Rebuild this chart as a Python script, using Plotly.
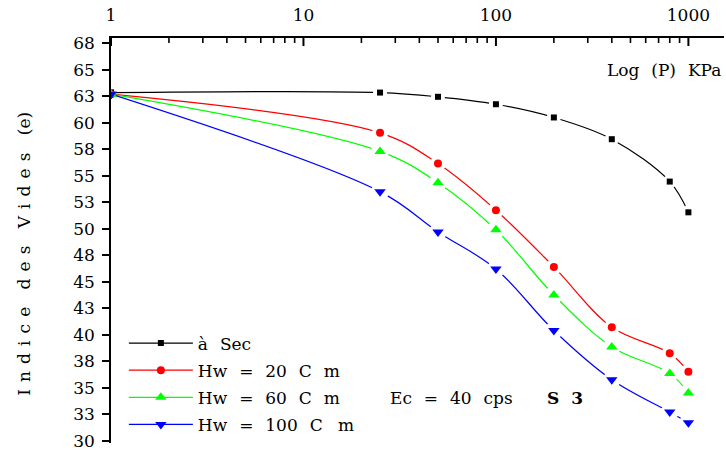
import plotly.graph_objects as go

# ---- data ----
pressure = [1, 25, 50, 100, 200, 400, 800, 1000]
e_sec = [62.85, 62.85, 62.45, 61.75, 60.5, 58.45, 54.45, 51.55]
e_hw20 = [62.7, 59.05, 56.15, 51.75, 46.4, 40.7, 38.25, 36.5]
e_hw60 = [62.7, 57.3, 54.35, 49.9, 43.75, 38.85, 36.35, 34.5]
e_hw100 = [62.7, 53.5, 49.7, 46.2, 40.4, 35.75, 32.7, 31.7]
series_names = ["à\u2002\u2009Sec",
                "Hw\u2002\u2009=\u2002\u200920\u2002\u2009C\u2002\u2009m",
                "Hw\u2002\u2009=\u2002\u200960\u2002\u2009C\u2002\u2009m",
                "Hw\u2002\u2009=\u2002\u2009100\u2002\u2009C\u2002\u2009\u2009m"]
x_major_ticks = [1, 10, 100, 1000]
x_major_labels = ["1", "10", "100", "1000"]
x_minor_ticks = [2, 3, 4, 5, 6, 7, 8, 9, 20, 30, 40, 50, 60, 70, 80, 90,
                 200, 300, 400, 500, 600, 700, 800, 900]
y_tick_values = [30, 32.5, 35, 37.5, 40, 42.5, 45, 47.5, 50, 52.5, 55, 57.5, 60, 62.5, 65, 67.5]
y_tick_labels = ["30", "33", "35", "38", "40", "43", "45", "48", "50", "53", "55", "58", "60", "63", "65", "68"]

FONT = "DejaVu Serif"
FS = 17
XR = [0, 3.185]
PLOT_H = 452 - 38 - 9
series = [
    (series_names[0], e_sec, "#000000", "square", 6, 14),
    (series_names[1], e_hw20, "#ff0000", "circle", 8, 16),
    (series_names[2], e_hw60, "#00ff00", "triangle-up", 10, 18),
    (series_names[3], e_hw100, "#0000ff", "triangle-down", 10, 18),
]

fig = go.Figure()
for i, (name, ys, col, sym, msz, gap) in enumerate(series):
    fig.add_trace(go.Scatter(
        x=pressure, y=ys, name=name, mode="lines+markers",
        line=dict(color=col, width=1.2, shape="spline", smoothing=1.0),
        marker=dict(symbol=sym, size=msz, color=col),
        legendgroup=f"g{i}",
    ))
for i, (name, ys, col, sym, msz, gap) in enumerate(series):
    fig.add_trace(go.Scatter(
        x=pressure[1:], y=ys[1:], mode="markers", showlegend=False,
        marker=dict(symbol="circle", size=gap, color="white"),
        hoverinfo="skip",
    ))
for i, (name, ys, col, sym, msz, gap) in enumerate(series):
    fig.add_trace(go.Scatter(
        x=pressure, y=ys, mode="markers", showlegend=False,
        marker=dict(symbol=sym, size=msz, color=col),
    ))

# inward tick marks under the top axis (major and minor), placed in data units
for vals, ln, w in ((x_major_ticks, 8, 2), (x_minor_ticks, 5, 1.6)):
    for v in vals:
        fig.add_shape(type="line", xref="x", yref="paper", x0=v, x1=v,
                      y0=1, y1=1 - ln / PLOT_H, layer="above",
                      line=dict(color="black", width=w))

fig.update_layout(
    width=726, height=452,
    margin=dict(l=111, r=2, t=38, b=9, autoexpand=False),
    paper_bgcolor="white", plot_bgcolor="white",
    font=dict(family=FONT, size=FS, color="black"),
    showlegend=True,
    legend=dict(
        x=0.021, y=0.29, xanchor="left", yanchor="top",
        bgcolor="rgba(0,0,0,0)", borderwidth=0,
        font=dict(family=FONT, size=FS, color="black"),
        traceorder="grouped", tracegroupgap=2, itemwidth=64,
    ),
    xaxis=dict(
        type="log", range=XR, side="top",
        showline=True, linecolor="black", linewidth=1.5,
        ticks="", tickmode="array", tickvals=x_major_ticks, ticktext=x_major_labels,
        showgrid=False, zeroline=False, mirror=False,
        ticklabelstandoff=8,
        tickfont=dict(family=FONT, size=FS, color="black"),
    ),
    yaxis=dict(
        range=[29.78, 68.0],
        showline=True, linecolor="black", linewidth=1.5,
        ticks="outside", ticklen=7, tickwidth=1.5, tickcolor="black",
        tickmode="array", tickvals=y_tick_values, ticktext=y_tick_labels,
        showgrid=False, zeroline=False, mirror=False,
        ticklabelstandoff=4,
        tickfont=dict(family=FONT, size=FS, color="black"),
    ),
    annotations=[
        dict(text="Log\u2002\u2009(P)\u2002\u2009KPa", xref="paper", yref="paper", x=0.998, y=0.921,
             xanchor="right", yanchor="middle", showarrow=False,
             font=dict(family=FONT, size=FS, color="black")),
        dict(text="Ec\u2002\u2009=\u2002\u200940\u2002\u2009cps", xref="paper", yref="paper",
             x=0.452, y=0.111, xanchor="left", yanchor="middle", showarrow=False,
             font=dict(family=FONT, size=FS, color="black")),
        dict(text="<b>S\u2002\u20093</b>", xref="paper", yref="paper",
             x=0.708, y=0.111, xanchor="left", yanchor="middle", showarrow=False,
             font=dict(family=FONT, size=FS, color="black")),
        dict(text="I\u00a0\u200an\u00a0\u200ad\u00a0\u200ai\u00a0\u200ac\u00a0\u200ae\u2002\u00a0\u2009d\u00a0\u200ae\u00a0\u200as\u2002\u00a0\u2009V\u00a0\u200ai\u00a0\u200ad\u00a0\u200ae\u00a0\u200as\u2002\u00a0\u2009(e)",
             xref="paper", yref="paper", x=-0.142, y=0.467, textangle=-90,
             xanchor="center", yanchor="middle", showarrow=False,
             font=dict(family=FONT, size=FS, color="black")),
    ],
)

fig.write_html("out.html")
